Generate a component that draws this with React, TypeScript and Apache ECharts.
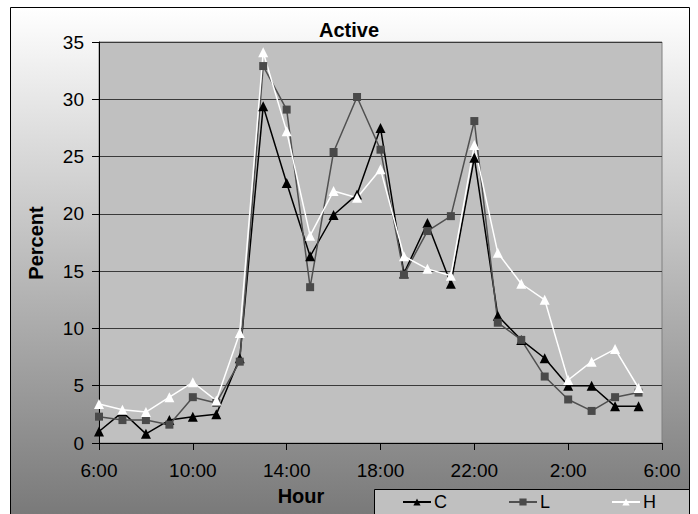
import React, { useEffect, useRef } from "react";
import * as echarts from "echarts";

const hours = [0, 1, 2, 3, 4, 5, 6, 7, 8, 9, 10, 11, 12, 13, 14, 15, 16, 17, 18, 19, 20, 21, 22, 23];
const seriesC = [1.0, 2.7, 0.8, 2.0, 2.3, 2.5, 7.4, 29.4, 22.7, 16.3, 19.9, 21.7, 27.5, 14.8, 19.2, 13.9, 24.9, 11.1, 9.0, 7.4, 5.0, 5.0, 3.2, 3.2];
const seriesL = [2.3, 2.0, 2.0, 1.6, 4.0, 3.5, 7.1, 32.9, 29.1, 13.6, 25.4, 30.2, 25.6, 14.7, 18.5, 19.8, 28.1, 10.5, 9.0, 5.8, 3.8, 2.8, 4.0, 4.4];
const seriesH = [3.4, 2.9, 2.7, 4.0, 5.3, 3.7, 9.6, 34.1, 27.2, 18.1, 22.0, 21.4, 23.9, 16.3, 15.2, 14.6, 26.0, 16.6, 13.9, 12.5, 5.5, 7.1, 8.2, 4.8];
const seriesNames = ["C", "L", "H"];
const startHour = 6;

export default function App() {
  const ref = useRef<HTMLDivElement>(null);
  useEffect(() => {
    document.body.style.margin = "0";
    const chart = echarts.init(ref.current!, null, { renderer: "svg" });
    const font = "'Liberation Sans', Arial, sans-serif";
    const pair = (vals: number[]) => hours.map((h, i) => [h, vals[i]]);
    chart.setOption({
      animation: false,
      title: {
        text: "Active",
        left: "center",
        top: 15,
        textStyle: { fontFamily: font, fontSize: 20, fontWeight: "bold", color: "#000" },
      },
      graphic: [
        {
          type: "rect",
          z: -10,
          shape: { x: 10.5, y: 7.5, width: 679, height: 520 },
          style: {
            fill: {
              type: "linear", x: 0, y: 0, x2: 0, y2: 1,
              colorStops: [
                { offset: 0, color: "#ffffff" },
                { offset: 1, color: "#767676" },
              ],
            },
            stroke: "#000",
            lineWidth: 1,
          },
        },
        {
          type: "rect",
          z: 1,
          shape: { x: 374.5, y: 489.5, width: 315, height: 40 },
          style: { fill: "#c0c0c0", stroke: "#000", lineWidth: 1 },
        },
        {
          type: "text",
          z: 2,
          x: 301,
          y: 496,
          style: {
            text: "Hour", fontFamily: font, fontSize: 20, fontWeight: "bold",
            fill: "#000", align: "center", verticalAlign: "middle",
          },
        },
        {
          type: "text",
          z: 2,
          x: 36,
          y: 243,
          rotation: Math.PI / 2,
          style: {
            text: "Percent", fontFamily: font, fontSize: 20, fontWeight: "bold",
            fill: "#000", align: "center", verticalAlign: "middle",
          },
        },
      ],
      legend: {
        left: 402,
        top: 493,
        padding: 0,
        z: 5,
        itemGap: 61,
        itemWidth: 28,
        itemHeight: 9,
        data: seriesNames,
        textStyle: { fontFamily: font, fontSize: 18, lineHeight: 18, color: "#000", padding: [0, 0, 0, -2] },
      },
      grid: {
        left: 99, right: 36, top: 42, bottom: 71,
        show: true, backgroundColor: "#c0c0c0", borderColor: "#808080", borderWidth: 1,
      },
      xAxis: {
        type: "value",
        min: 0, max: 24, interval: 4,
        axisLine: { show: true, lineStyle: { color: "#000", width: 1 } },
        axisTick: { show: true, length: 7, lineStyle: { color: "#000" } },
        splitLine: { show: false },
        axisLabel: {
          margin: 18,
          fontFamily: font, fontSize: 19, color: "#000",
          showMinLabel: true, showMaxLabel: true,
          formatter: (v: number) => ((startHour + v) % 24) + ":00",
        },
      },
      yAxis: {
        type: "value",
        min: 0, max: 35, interval: 5,
        axisLine: { show: true, lineStyle: { color: "#000", width: 1 } },
        axisTick: { show: true, length: 7, lineStyle: { color: "#000" } },
        splitLine: { show: true, lineStyle: { color: "#3a3a3a", width: 1 } },
        axisLabel: { margin: 15, fontFamily: font, fontSize: 19, color: "#000" },
      },
      series: [
        {
          name: "C", type: "line", data: pair(seriesC),
          symbol: "triangle", symbolSize: 10, showAllSymbol: true,
          lineStyle: { color: "#000", width: 1.5 },
          itemStyle: { color: "#000" },
        },
        {
          name: "L", type: "line", data: pair(seriesL),
          symbol: "rect", symbolSize: 8, showAllSymbol: true,
          lineStyle: { color: "#505050", width: 1.5 },
          itemStyle: { color: "#4a4a4a" },
        },
        {
          name: "H", type: "line", data: pair(seriesH),
          symbol: "triangle", symbolSize: 10, showAllSymbol: true,
          lineStyle: { color: "#ffffff", width: 1.5 },
          itemStyle: { color: "#ffffff" },
        },
      ],
    });
    return () => chart.dispose();
  }, []);
  return <div ref={ref} style={{ width: 698, height: 514 }} />;
}
